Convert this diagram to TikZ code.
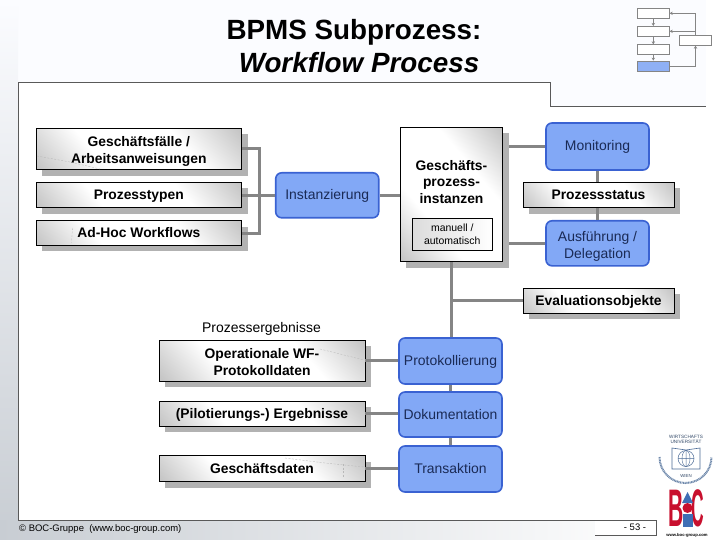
\documentclass[tikz,border=0pt]{standalone}
\usepackage{fontspec}
\setmainfont{Liberation Sans}
\usetikzlibrary{arrows.meta}
\definecolor{shadowgray}{HTML}{B2B2B2}
\definecolor{boxgray}{HTML}{C6C6C6}
\definecolor{linegray}{HTML}{858585}
\definecolor{bluefill}{HTML}{82A8F6}
\definecolor{blueedge}{HTML}{3A62D2}
\definecolor{bluetext}{HTML}{1A2A55}
\definecolor{bgtop}{HTML}{FBFCFF}
\definecolor{bgbottom}{HTML}{C8CDD3}
\definecolor{thumbblue}{HTML}{8FB0F5}
\definecolor{bocred}{HTML}{C8102E}
\definecolor{bocblue}{HTML}{3F6FB5}
\definecolor{uniblue}{HTML}{4A6A96}
\pgfdeclarehorizontalshading{boxshade}{100bp}{color(0bp)=(boxgray); color(16bp)=(boxgray); color(36bp)=(white); color(64bp)=(white); color(84bp)=(boxgray); color(100bp)=(boxgray)}
\tikzset{
  x=1bp,y=-1bp,
  wh/.style 2 args={minimum width=#1bp,minimum height=#2bp},
  oneline/.style={text height=12bp,text depth=3bp},
  twoline/.style={text height=33bp,text depth=3bp},
  textbox/.style={draw=black,line width=0.9bp,inner sep=0pt,align=center,
    shade,shading=boxshade,shading angle=40,oneline,
    font=\bfseries\fontsize{13.9}{17}\selectfont,
    preaction={fill=shadowgray,transform canvas={xshift=6bp,yshift=-6bp}}},
  bluebox/.style={draw=blueedge,fill=bluefill,line width=1.6bp,rounded corners=6bp,
    inner sep=0pt,align=center,text=bluetext,oneline,font=\fontsize{14}{17}\selectfont},
  conn/.style={draw=linegray,line width=2.8bp},
  thumb/.style={draw=linegray,fill=white,line width=0.8bp,inner sep=0pt},
  thumbarrow/.style={draw=linegray,line width=1.3bp,-{Stealth[length=3bp,width=3.5bp]}},
  faint/.style={draw=black!28,line width=0.35bp,dash pattern=on 2bp off 1.5bp},
}
\begin{document}
\begin{tikzpicture}
\useasboundingbox (0,0) rectangle (720,540);
% page background
\fill[white] (0,0) rectangle (720,540);
\fill[bgtop] (0,0) rectangle (706,106);
\shade[top color=bgtop,bottom color=bgbottom] (0,0) rectangle (18,540);
\shade[left color=bgbottom,right color=white] (0,520) rectangle (660,540);
% panel
\fill[white] (18,82) -- (550,82) -- (550,106) -- (706,106) -- (706,520) -- (18,520) -- cycle;
\draw[black!65,line width=0.9bp] (18,520) -- (18,82) -- (550,82) -- (550,106) -- (706,106);
\fill[white] (595,520) rectangle (656,535);
\draw[black!65,line width=0.9bp] (18,520) -- (656,520) -- (656,535) -- (595,535);
% title
\node[font=\bfseries\fontsize{27.9}{36}\selectfont,anchor=center] (t1) at (354,32.5) {BPMS Subprozess:};
\node[font=\bfseries\itshape\fontsize{27.9}{36}\selectfont,anchor=center] (t2) at (359,62.5) {Workflow Process};
% thumbnail
\node[thumb,wh={32}{10}] (th1) at (653.3,13.3) {};
\node[thumb,wh={32}{10}] (th2) at (653.3,31.3) {};
\node[thumb,wh={32}{10}] (th3) at (653.3,49.7) {};
\node[thumb,wh={32}{10},fill=thumbblue] (th4) at (653.3,66) {};
\node[thumb,wh={32}{10}] (th5) at (695.5,40.3) {};
\draw[thumbarrow] (th1) -- (th2);
\draw[thumbarrow] (th2) -- (th3);
\draw[thumbarrow] (th3) -- (th4);
\draw[thumbarrow,line width=0.8bp] (th4.east) -| (th5.south);
\draw[thumbarrow] (th5.north) |- (th1.east);
\draw[thumbarrow] (th5.north) |- (th2.east);
% nodes, upper part
\node[textbox,twoline,wh={205.5}{41.5}] (gf) at (138.8,148.8) {Geschäftsfälle /\\Arbeitsanweisungen};
\node[textbox,wh={205.5}{25.5}] (pt) at (138.8,194.8) {Prozesstypen};
\node[textbox,wh={205.5}{24.5}] (ah) at (138.8,233.2) {Ad-Hoc Workflows};
\node[bluebox,wh={103}{45}] (inst) at (327.2,195.3) {Instanzierung};
\node[textbox,wh={102.5}{134.5}] (gpi) at (451.5,194.3) {};
\node[font=\bfseries\fontsize{13.9}{17}\selectfont,align=center] (gpil) at (451.5,182) {Geschäfts-\\prozess-\\instanzen};
\node[draw=black,line width=0.9bp,inner sep=0pt,align=center,left color=black!14,right color=white,wh={80.5}{32.5},font=\fontsize{10.5}{12.5}\selectfont] (mau) at (452.3,234.4) {manuell /\\automatisch};
\node[bluebox,wh={103}{47}] (mon) at (597.5,146.5) {Monitoring};
\node[textbox,wh={151}{25.5}] (ps) at (598.5,194.8) {Prozessstatus};
\node[bluebox,twoline,wh={103}{45}] (aus) at (597.5,243.3) {Ausführung /\\Delegation};
\node[textbox,wh={151}{25}] (ev) at (598.5,300.5) {Evaluationsobjekte};
\coordinate (gvert) at (451.5,300.5);
% lower part
\node[font=\fontsize{14}{16}\selectfont] (pe) at (261.5,328.5) {Prozessergebnisse};
\node[textbox,twoline,wh={206}{41}] (op) at (262,360.5) {Operationale WF-\\Protokolldaten};
\node[textbox,wh={206}{25}] (pi) at (262,413.8) {(Pilotierungs-) Ergebnisse};
\node[textbox,wh={206}{26}] (gd) at (262,468.8) {Geschäftsdaten};
\node[bluebox,wh={103}{46}] (pk) at (450.5,361) {Protokollierung};
\node[bluebox,wh={103}{45}] (dk) at (450.5,414.5) {Dokumentation};
\node[bluebox,wh={103}{46}] (tr) at (450.5,469) {Transaktion};
% connectors
\coordinate (jgf) at (259.5,148.5);
\coordinate (jah) at (259.5,233.5);
\draw[conn] (gf.east |- jgf) -- (jgf) -- (jah) -- (ah.east |- jah);
\draw[conn] (pt.east |- 0,195.5) -- (inst.west |- 0,195.5);
\draw[conn] (inst.east |- 0,195.5) -- (gpi.west |- 0,195.5);
\draw[conn] ([xshift=6bp]gpi.east |- 0,146.5) -- (mon.west |- 0,146.5);
\draw[conn] ([xshift=6bp]gpi.east |- 0,243.5) -- (aus.west |- 0,243.5);
\draw[conn] (mon.south) -- (mon.south |- ps.north);
\draw[conn] (aus.north |- ps.south) -- (aus.north);
\draw[conn] (gpi.south) -- (gpi.south |- pk.north);
\draw[conn] (gvert) -- (ev.west);
\draw[conn] (pk.south) -- (dk.north);
\draw[conn] (dk.south) -- (tr.north);
\draw[conn] (op.east |- 0,360.5) -- (pk.west |- 0,360.5);
\draw[conn] (pi.east |- 0,413.5) -- (dk.west |- 0,413.5);
\draw[conn] (gd.east |- 0,468.5) -- (tr.west |- 0,468.5);
% faint marks inside boxes
\draw[faint] (37,156) -- (70,162) -- (100,169);
\draw[faint] (72.5,228) -- (71.5,243);
\draw[faint] (320,349) -- (364,360);
\draw[faint] (285,458) -- (325,463) -- (364,467);
\draw[faint] (343,464) -- (343,478);
% footer
\node[anchor=west,inner sep=0pt,font=\fontsize{9.5}{11}\selectfont] (cr) at (19,529) {© BOC-Gruppe\ \ (www.boc-group.com)};
\node[font=\fontsize{9.5}{11}\selectfont] (pg) at (635,527) {- 53 -};
% university logo
\node[font=\fontsize{4.7}{5.2}\selectfont,align=center,text=uniblue!70!black,inner sep=0pt] (un) at (686,439.5) {WIRTSCHAFTS\\UNIVERSITÄT};
\draw[uniblue,line width=0.6bp] (672,448) -- (686,450) -- (700,448) -- (700,469) -- (672,469) -- cycle;
\draw[uniblue,line width=0.5bp] (686,458.5) circle (8bp) (678,458.5) -- (694,458.5) (686,450.5) -- (686,466.5);
\draw[uniblue,line width=0.4bp] (686,458.5) ellipse (4bp and 8bp);
\node[font=\fontsize{4.4}{5}\selectfont,text=uniblue!70!black,inner sep=0pt] (wi) at (686,476) {WIEN};
\draw[uniblue!80,line width=2bp,dash pattern=on 1bp off 0.6bp] (659.5,457) arc[start angle=180,end angle=360,radius=26bp];
% BOC logo
\node[text=bocred,font=\bfseries\fontsize{53}{53}\selectfont,xscale=0.40,inner sep=0pt] (bb) at (676.5,508) {B};
\node[text=bocred,font=\bfseries\fontsize{53}{53}\selectfont,xscale=0.33,inner sep=0pt] (bc) at (698,508) {C};
\fill[bocblue] (687.5,492) -- (693,503) -- (682,503) -- cycle;
\fill[bocred] (687.5,508) circle (5bp);
\fill[bocblue] (683,514) rectangle (693,527);
\node[font=\bfseries\fontsize{4.2}{5}\selectfont,inner sep=0pt] (web) at (687,535.5) {www.boc-group.com};
\end{tikzpicture}
\end{document}
